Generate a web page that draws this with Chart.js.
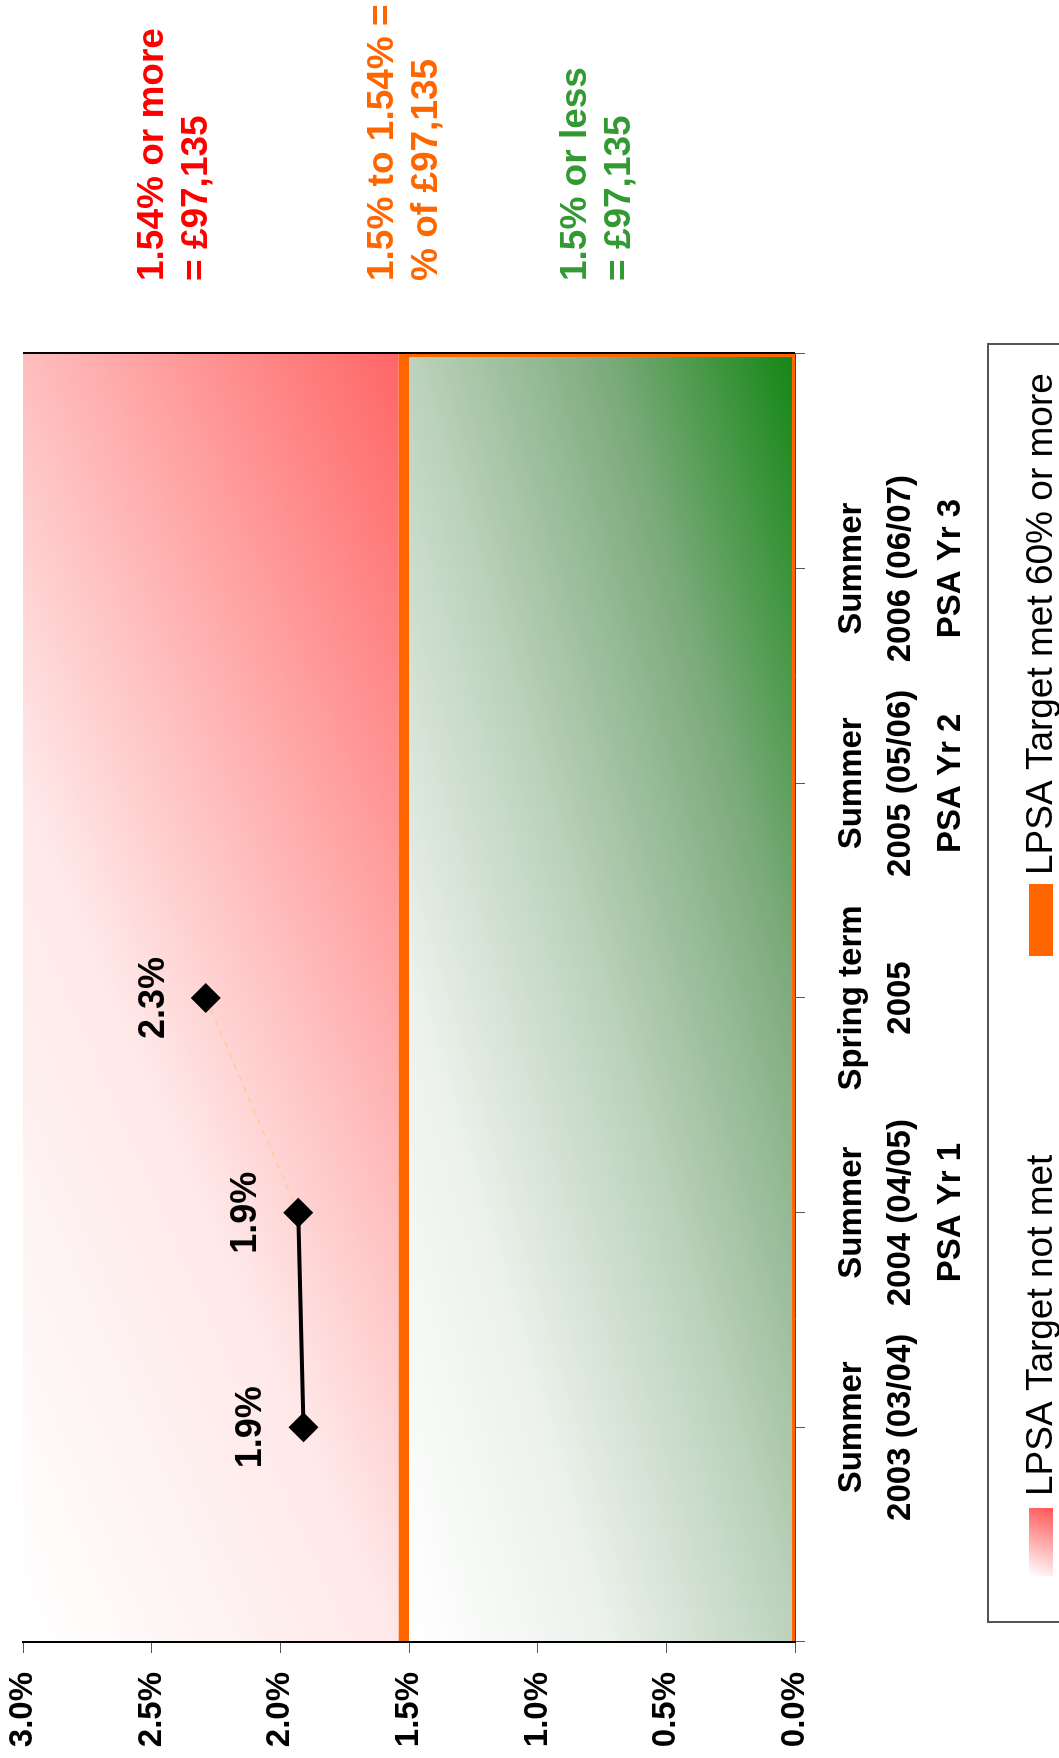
<!DOCTYPE html>
<html>
<head>
<meta charset="utf-8">
<script src="https://cdn.jsdelivr.net/npm/chart.js@4.4.1/dist/chart.umd.min.js"></script>
<style>
  html, body { margin: 0; padding: 0; overflow: hidden; background: #fff; }
  /* chart is laid out landscape, then turned a quarter turn anticlockwise */
  #wrap {
    position: absolute; left: 0; top: 0;
    width: 1758px; height: 1059px;
    transform-origin: 0 0;
    transform: translate(0, 1758px) rotate(-90deg);
  }
</style>
</head>
<body>
<div id="wrap"><canvas id="lpsaChart" width="1758" height="1059"></canvas></div>
<script>
// data
const categories = [
  ["Summer", "2003 (03/04)"],
  ["Summer", "2004 (04/05)", "PSA Yr 1"],
  ["Spring term", "2005"],
  ["Summer", "2005 (05/06)", "PSA Yr 2"],
  ["Summer", "2006 (06/07)", "PSA Yr 3"]
];
const lpsaValues = [1.91, 1.93, 2.29, null, null];
const valueMin = 0;
const valueMax = 3;
const valueStep = 0.5;

// target bands (percent)
const notMetBand = [1.54, 3.0];
const targetBand = [1.5, 1.54];
const metBand = [0, 1.5];

const legendLabels = ["LPSA Target not met", "LPSA Target met 60% or more"];
const noteLines = [
  ["1.54% or more", "= £97,135"],
  ["1.5% to 1.54% =", "% of £97,135"],
  ["1.5% or less", "= £97,135"]
];

const FONT = "'Liberation Sans', Arial, sans-serif";
Chart.defaults.font.family = FONT;

// gradient laid out in the box's own unit square, so it runs corner to corner
function diagFill(ctx, x0, y0, x1, y1, p, q, stops) {
  ctx.save();
  ctx.translate(x0, y0);
  ctx.scale(x1 - x0, y1 - y0);
  const g = ctx.createLinearGradient(0, 0, p, q);
  stops.forEach(([o, c]) => g.addColorStop(o, c));
  ctx.fillStyle = g;
  ctx.fillRect(0, 0, 1, 1);
  ctx.restore();
}

const bandsPlugin = {
  id: "bands",
  beforeDraw(chart) {
    const { ctx, chartArea: a, scales: { y } } = chart;
    const w = a.right - a.left;

    diagFill(ctx, a.left, y.getPixelForValue(notMetBand[1]), a.right, y.getPixelForValue(notMetBand[0]),
      1.154, 0.769, [[0, "#ffffff"], [0.4, "#ffe8e8"], [0.6, "#ffbdbd"], [1, "#ff6666"]]);

    const gTop = y.getPixelForValue(metBand[1]);
    const gBot = y.getPixelForValue(metBand[0]);
    diagFill(ctx, a.left, gTop, a.right, gBot, 1, 1,
      [[0, "#ffffff"], [0.25, "#edf2ed"], [0.5, "#bcd2bc"], [0.75, "#7dab7d"], [1, "#138613"]]);

    const oTop = y.getPixelForValue(targetBand[1]);
    const oBot = y.getPixelForValue(targetBand[0]);
    ctx.save();
    ctx.fillStyle = "#ff6600";
    ctx.fillRect(a.left, oTop, w, oBot - oTop);
    // thin orange edge on the outer sides of the green band
    ctx.strokeStyle = "#ff6600";
    ctx.lineWidth = 3;
    ctx.beginPath();
    ctx.moveTo(a.left, gBot - 1.5);
    ctx.lineTo(a.right - 1.5, gBot - 1.5);
    ctx.lineTo(a.right - 1.5, gTop);
    ctx.stroke();
    ctx.restore();
  },
  afterDatasetsDraw(chart) {
    const { ctx } = chart;
    const meta = chart.getDatasetMeta(0);
    ctx.save();
    ctx.fillStyle = "#000";
    ctx.font = "bold 36px " + FONT;
    ctx.textAlign = "center";
    ctx.textBaseline = "alphabetic";
    meta.data.forEach((pt, i) => {
      const v = lpsaValues[i];
      if (v == null) return;
      ctx.fillText(v.toFixed(1) + "%", pt.x, pt.y - 42);
    });
    ctx.restore();
  },
  afterDraw(chart) {
    const { ctx, chartArea: a } = chart;
    ctx.save();
    // frame line on the far side of the plot
    ctx.strokeStyle = "#000";
    ctx.lineWidth = 2;
    ctx.beginPath();
    ctx.moveTo(a.right + 1, a.top);
    ctx.lineTo(a.right + 1, a.bottom);
    ctx.stroke();

    // notes
    const noteColors = ["#ff0000", "#ff6600", "#339933"];
    const noteY = [163, 393, 586];
    ctx.font = "bold 37px " + FONT;
    ctx.textAlign = "left";
    noteLines.forEach((lines, i) => {
      ctx.fillStyle = noteColors[i];
      lines.forEach((t, j) => ctx.fillText(t, 1477, noteY[i] + j * 44));
    });

    // legend box
    ctx.strokeStyle = "#555";
    ctx.lineWidth = 2;
    ctx.strokeRect(136, 988, 1278, 100);
    const sw = ctx.createLinearGradient(182, 1029, 250, 1053);
    sw.addColorStop(0, "#ffffff");
    sw.addColorStop(1, "#ff5555");
    ctx.fillStyle = sw;
    ctx.fillRect(182, 1029, 68, 24);
    ctx.fillStyle = "#ff6600";
    ctx.fillRect(802, 1029, 72, 24);
    ctx.fillStyle = "#000";
    ctx.font = "37px " + FONT;
    ctx.fillText(legendLabels[0], 262, 1052);
    ctx.fillText(legendLabels[1], 883, 1052);
    ctx.restore();
  }
};

const ctx = document.getElementById("lpsaChart").getContext("2d");
new Chart(ctx, {
  type: "line",
  data: {
    datasets: [{
      label: "LPSA",
      data: lpsaValues.map((v, i) => ({ x: i + 1, y: v })),
      borderColor: "#000",
      borderWidth: 4,
      pointStyle: "rectRot",
      pointRadius: 15,
      pointBackgroundColor: "#000",
      pointBorderWidth: 0,
      segment: {
        borderColor: c => c.p0DataIndex === 0 ? "#000" : "#ffcc99",
        borderDash: c => c.p0DataIndex === 0 ? [] : [6, 6],
        borderWidth: c => c.p0DataIndex === 0 ? 4 : 1.5
      }
    }]
  },
  options: {
    responsive: false,
    animation: false,
    devicePixelRatio: 1,
    layout: { padding: { top: 23, right: 354, left: 0, bottom: 0 } },
    plugins: { legend: { display: false }, tooltip: { enabled: false } },
    scales: {
      x: {
        type: "linear",
        min: 0,
        max: categories.length + 1,
        afterBuildTicks: s => { s.ticks = Array.from({ length: categories.length + 2 }, (_, i) => ({ value: i })); },
        grid: { display: true, drawOnChartArea: false, drawTicks: true, tickLength: 10, color: "#555" },
        border: { display: true, color: "#444", width: 1 },
        ticks: {
          padding: 22,
          color: "#000",
          maxRotation: 0,
          autoSkip: false,
          font: { size: 33, weight: "bold", lineHeight: 1.5 },
          callback: v => (v >= 1 && v <= categories.length) ? categories[v - 1] : ""
        },
        afterFit: s => { s.height = 264; s.paddingLeft = 0; s.paddingRight = 0; }
      },
      y: {
        min: valueMin,
        max: valueMax,
        grid: { display: true, drawOnChartArea: false, drawTicks: true, tickLength: 11, color: "#555" },
        border: { display: true, color: "#000", width: 2 },
        ticks: {
          stepSize: valueStep,
          padding: 19,
          color: "#000",
          font: { size: 33, weight: "bold" },
          callback: v => v.toFixed(1) + "%"
        },
        afterFit: s => { s.width = 116; s.paddingTop = 0; s.paddingBottom = 0; }
      }
    }
  },
  plugins: [bandsPlugin]
});
</script>
</body>
</html>
